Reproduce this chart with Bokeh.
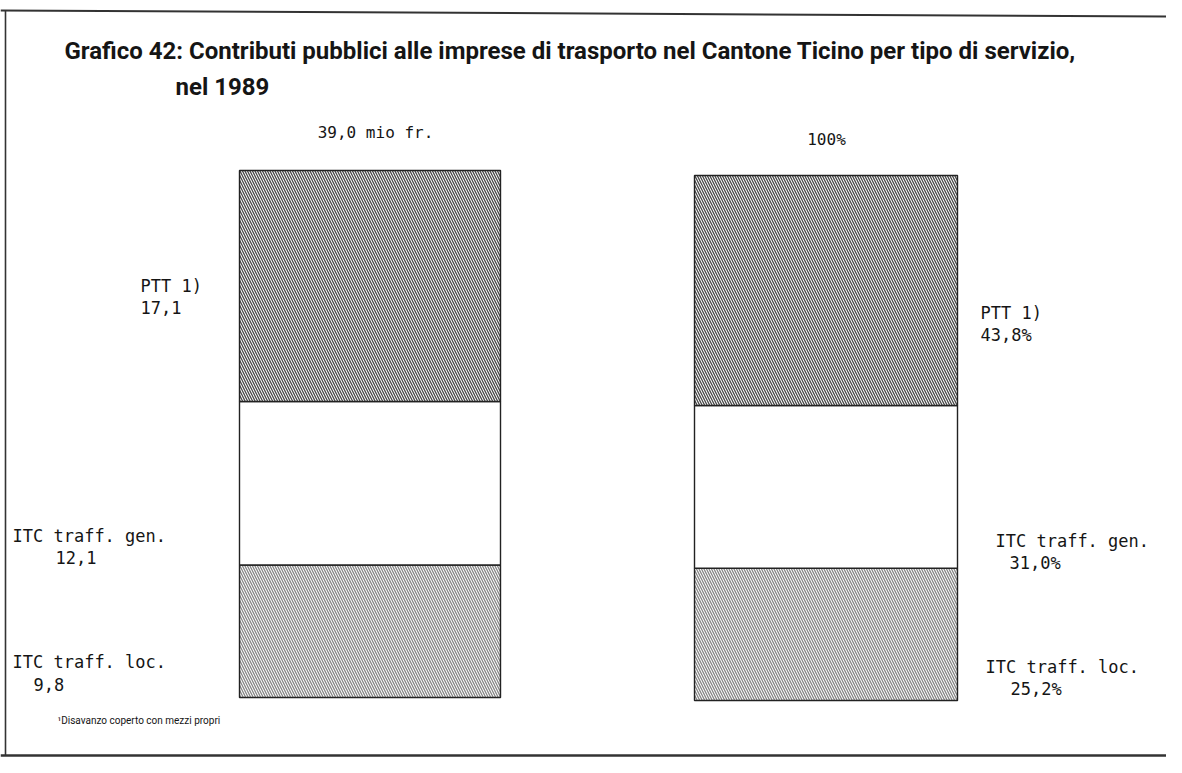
from bokeh.plotting import figure
from bokeh.models import Range1d, Label
from bokeh.embed import file_html
from bokeh.resources import INLINE

# ---------------- data ----------------
title_line1 = "Grafico 42: Contributi pubblici alle imprese di trasporto nel Cantone Ticino per tipo di servizio,"
title_line2 = "nel 1989"
categories = ["PTT 1)", "ITC traff. gen.", "ITC traff. loc."]
values_mio = [17.1, 12.1, 9.8]
values_pct = [43.8, 31.0, 25.2]
total_mio_label = "39,0 mio fr."
total_pct_label = "100%"
footnote = "\u00b9Disavanzo coperto con mezzi propri"

# ---------------- layout ----------------
W, H = 1166, 757


def sx(x):
    return x


def sy(y):
    return H - y


total_mio = sum(values_mio)
total_pct = sum(values_pct)

# bar geometry (picture px)
L_BOT, L_TOP = sy(697), sy(170)
scale_l = (L_TOP - L_BOT) / total_mio
R_BOT, R_TOP = sy(700), sy(175)
scale_r = (R_TOP - R_BOT) / total_pct

p = figure(width=W, height=H, output_backend="svg", toolbar_location=None,
           x_range=Range1d(0, W),
           y_range=Range1d(-L_BOT / scale_l, (H - L_BOT) / scale_l),
           min_border=0, outline_line_color=None)
p.extra_y_ranges = {
    "pct": Range1d(-R_BOT / scale_r, (H - R_BOT) / scale_r),
    "px": Range1d(0, H),
}
p.xaxis.visible = False
p.yaxis.visible = False
p.grid.visible = False
p.background_fill_color = "white"
p.border_fill_color = "white"

# stack from bottom: loc, gen, PTT
order = [2, 1, 0]
styles = {
    0: dict(hatch_pattern="\\", hatch_color="#333333", hatch_alpha=0.9),
    1: dict(hatch_pattern=" ", hatch_alpha=0.0),
    2: dict(hatch_pattern="\\", hatch_color="#444444", hatch_alpha=0.65),
}


def draw_bar(values, x0, x1, range_name):
    base = 0.0
    for i in order:
        v = values[i]
        kw = dict(left=x0, right=x1, bottom=base, top=base + v,
                  fill_color="white", line_color="#222222", line_width=1.4,
                  hatch_scale=5, hatch_weight=1.3)
        kw.update(styles[i])
        if range_name:
            kw["y_range_name"] = range_name
        p.quad(**kw)
        base += v


draw_bar(values_mio, sx(239), sx(500), None)
draw_bar(values_pct, sx(694), sx(957), "pct")

# frame lines of the scanned page
p.segment(x0=[0, 5, 0], y0=[sy(10), sy(10), sy(755)],
          x1=[W, 5, W], y1=[sy(16), sy(755), sy(755)],
          y_range_name="px", line_color="#333333", line_width=[2, 1.6, 2.5])

LABEL_FONT = "DejaVu Sans Mono"
TITLE_FONT = "Roboto"


def add_label(text, x, y, align="left", size="17px", font=LABEL_FONT, style="normal"):
    p.add_layout(Label(x=sx(x), y=sy(y), x_units="screen", y_units="screen",
                       text=text, text_align=align, text_baseline="middle",
                       text_font=font, text_font_size=size, text_font_style=style,
                       text_color="#151515"))


def fmt(v):
    return f"{v:.1f}".replace(".", ",")


# title
add_label(title_line1, 64, 50, size="24px", font=TITLE_FONT, style="bold")
add_label(title_line2, 175, 86, size="24px", font=TITLE_FONT, style="bold")

# column headers
add_label(total_mio_label, 375, 132, align="center", size="16px")
add_label(total_pct_label, 826, 139, align="center", size="16px")

# left labels (mio fr.)
left_name_pos = [(140, 285), (12, 535), (12, 661)]
left_val_pos = [(140, 307), (55, 557), (33, 684)]
for i, cat in enumerate(categories):
    add_label(cat, *left_name_pos[i])
    add_label(fmt(values_mio[i]), *left_val_pos[i])

# right labels (%)
right_name_pos = [(980, 312), (995, 540), (985, 666)]
right_val_pos = [(980, 334), (1009, 562), (1010, 688)]
for i, cat in enumerate(categories):
    add_label(cat, *right_name_pos[i])
    add_label(fmt(values_pct[i]) + "%", *right_val_pos[i])

# footnote
add_label(footnote, 57, 720, size="10px", font=TITLE_FONT)

open("out.html", "w").write(file_html(p, INLINE))
